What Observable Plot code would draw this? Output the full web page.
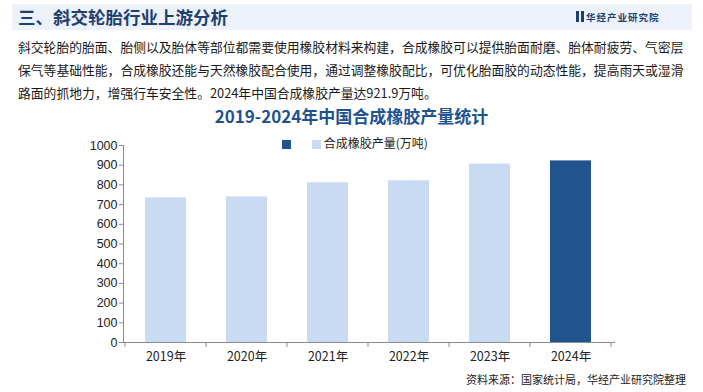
<!DOCTYPE html>
<html><head><meta charset="utf-8">
<script src="https://cdn.jsdelivr.net/npm/d3@7"></script>
<script src="https://cdn.jsdelivr.net/npm/@observablehq/plot@0.6"></script>
<style>
body{margin:0;width:703px;height:392px;position:relative;background:#fff;overflow:hidden;font-family:"Noto Sans CJK SC","Noto Sans",sans-serif;}
.abs{position:absolute;white-space:nowrap;}
#band{left:12px;top:4px;width:680px;height:26px;background:#edf2fa;}
#title{left:18px;top:4px;font-size:17.5px;font-weight:bold;color:#1f3f73;line-height:26px;}
#logo{left:576px;top:4px;line-height:26px;font-size:9.5px;font-weight:bold;color:#1f3f73;letter-spacing:1px;}
#logo i{display:inline-block;width:3px;height:11px;background:#1f3f73;margin-right:2px;vertical-align:-1px;}
#para{left:18px;top:35px;font-size:12.8px;line-height:23px;color:#1a1a1a;}
#ctitle{left:0;width:703px;text-align:center;top:103px;font-size:17px;font-weight:bold;color:#1f5293;line-height:26px;}
#legend{left:282px;top:135px;font-size:12px;color:#222;line-height:16px;}
#legend span.sq{display:inline-block;width:9px;height:9px;vertical-align:-0.5px;}
#chart{left:0;top:135px;}
#source{right:17px;top:371px;font-size:11px;color:#222;}
</style></head>
<body>
<div id="band" class="abs"></div>
<div id="title" class="abs">三、斜交轮胎行业上游分析</div>
<div id="logo" class="abs"><i></i><i></i>华经产业研究院</div>
<div id="para" class="abs">斜交轮胎的胎面、胎侧以及胎体等部位都需要使用橡胶材料来构建，合成橡胶可以提供胎面耐磨、胎体耐疲劳、气密层<br>保气等基础性能，合成橡胶还能与天然橡胶配合使用，通过调整橡胶配比，可优化胎面胶的动态性能，提高雨天或湿滑<br>路面的抓地力，增强行车安全性。2024年中国合成橡胶产量达921.9万吨。</div>
<div id="ctitle" class="abs">2019-2024年中国合成橡胶产量统计</div>
<div id="chart" class="abs"></div>
<div id="legend" class="abs"><span class="sq" style="background:#21548f"></span><span style="display:inline-block;width:21px"></span><span class="sq" style="background:#c9dbf2"></span> 合成橡胶产量(万吨)</div>
<div id="source" class="abs">资料来源：国家统计局，华经产业研究院整理</div>
<script>
const years = ["2019年","2020年","2021年","2022年","2023年","2024年"];
const output = [734.0, 739.2, 811.0, 821.0, 906.0, 921.9];
const highlight = [false,false,false,false,false,true];
const yTicks = [0,100,200,300,400,500,600,700,800,900,1000];

const data = years.map((y,i)=>({year:y, value:output[i], hi:highlight[i]}));

function boundaryTicks(index, scales, channels, dims) {
  const x = scales.x;
  const step = x.step(), bw = x.bandwidth();
  const y0 = dims.height - dims.marginBottom;
  const g = d3.create("svg:g").attr("stroke","#8c8c8c").attr("stroke-width",1);
  const xs = years.map(c => x(c) - (step - bw)/2);
  xs.push(x(years[years.length-1]) + bw + (step - bw)/2);
  for (const px of xs) g.append("line").attr("x1",px).attr("x2",px).attr("y1",y0).attr("y2",y0+5);
  return g.node();
}

const chart = Plot.plot({
  width: 703, height: 235,
  marginTop: 10, marginBottom: 28, marginLeft: 123, marginRight: 89,
  style: {fontFamily: '"Liberation Sans","Noto Sans CJK SC",sans-serif', fontSize: "12px", color: "#222", background: "transparent"},
  x: {domain: years, paddingInner: 0.49, paddingOuter: 0.245, label: null},
  y: {domain: [0,1000], label: null},
  marks: [
    Plot.barY(data, {x:"year", y:"value", fill: d => d.hi ? "#21548f" : "#c9dbf2"}),
    Plot.axisY({ticks: yTicks, tickFormat: d3.format("d"), tickSize: 4, tickPadding: 2, stroke: "#8c8c8c", fill: "#222", label: null, fontSize: 12.5}),
    Plot.axisX({tickSize: 0, tickPadding: 10, fill: "#222", label: null, fontSize: 12.5, fontFamily: '"Noto Sans CJK SC",sans-serif'}),
    Plot.frame({anchor: "left", stroke: "#8c8c8c"}),
    Plot.frame({anchor: "bottom", stroke: "#8c8c8c"}),
    boundaryTicks
  ]
});
document.getElementById("chart").appendChild(chart);
</script>
</body></html>
